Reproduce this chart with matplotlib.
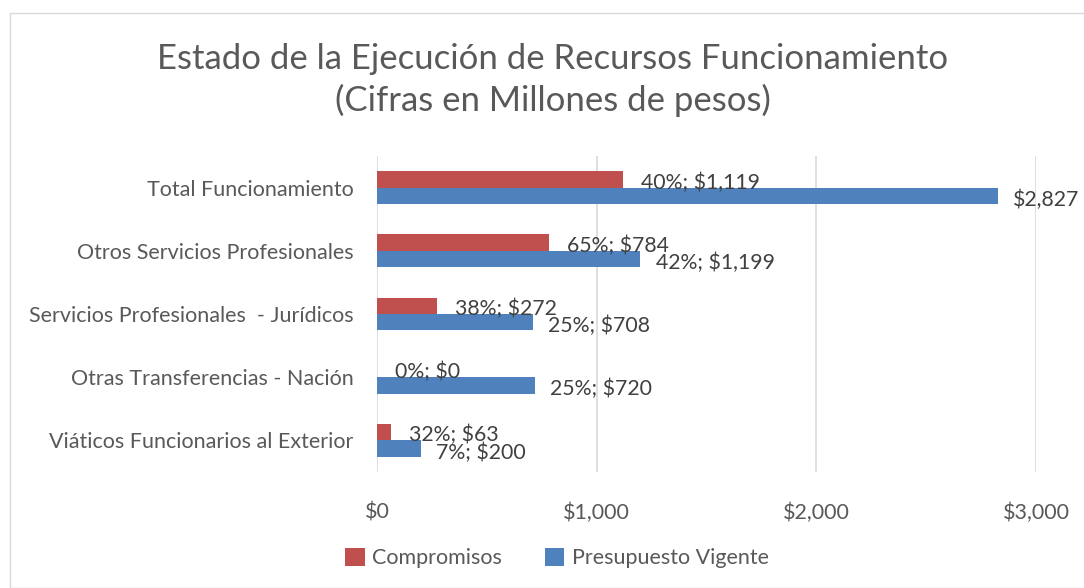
import matplotlib
matplotlib.use("Agg")
import matplotlib.pyplot as plt
from matplotlib.patches import Rectangle
from matplotlib.ticker import FuncFormatter
import numpy as np

categories = ["Total Funcionamiento", "Otros Servicios Profesionales",
              "Servicios Profesionales  - Jurídicos", "Otras Transferencias - Nación",
              "Viáticos Funcionarios al Exterior"]
compromisos = [1119, 784, 272, 0, 63]
presupuesto = [2827, 1199, 708, 720, 200]
comp_labels = ["40%; $1,119", "65%; $784", "38%; $272", "0%; $0", "32%; $63"]
pres_labels = ["$2,827", "42%; $1,199", "25%; $708", "25%; $720", "7%; $200"]
xticks = [0, 1000, 2000, 3000]

RED = "#C0504D"
BLUE = "#4F81BD"
GRAY = "#595959"
FONT = "Lato"

plt.rcParams['font.family'] = [FONT, 'DejaVu Sans']

fig = plt.figure(figsize=(10.84, 5.88), dpi=100)
fig.patches.append(Rectangle((10/1084, 0), 1.0, 1 - 13/588, transform=fig.transFigure,
                             fill=False, edgecolor="#d9d9d9", linewidth=1.0))

ax = fig.add_axes([377/1084, 1 - 472/588, (1036 - 377)/1084, (472 - 156)/588])

y = np.arange(len(categories))
h = 0.26
ax.barh(y - h/2, compromisos, height=h, color=RED, label="Compromisos", zorder=3)
ax.barh(y + h/2, presupuesto, height=h, color=BLUE, label="Presupuesto Vigente", zorder=3)

for i in range(len(categories)):
    ax.annotate(comp_labels[i], (compromisos[i], y[i] - h/2 + 0.05), xytext=(13, 0),
                textcoords="offset points", va="center", ha="left",
                fontsize=15.3, color="#404040", zorder=4)
    ax.annotate(pres_labels[i], (presupuesto[i], y[i] + h/2 + 0.06), xytext=(11, 0),
                textcoords="offset points", va="center", ha="left",
                fontsize=15.3, color="#404040", zorder=4)

ax.set_xlim(0, 3000)
ax.set_ylim(len(categories) - 0.5, -0.5)
ax.set_yticks(y)
ax.set_yticklabels(categories, fontsize=15.5, color=GRAY)
ax.set_xticks(xticks)
ax.xaxis.set_major_formatter(FuncFormatter(lambda v, p: f"${v:,.0f}"))
ax.tick_params(axis='x', labelsize=15.5, colors=GRAY, length=0, pad=22)
ax.tick_params(axis='y', length=0, pad=17)
ax.grid(axis='x', color="#d9d9d9", linewidth=1.2, zorder=0)
for s in ax.spines.values():
    s.set_visible(False)

fig.text(553/1084, 1 - 80/588, "Estado de la Ejecución de Recursos Funcionamiento\n(Cifras en Millones de pesos)",
         ha="center", va="center", fontsize=25, color=GRAY, linespacing=1.3)

leg = fig.legend(loc="center", bbox_to_anchor=(557/1084, 1 - 558/588), ncol=2, frameon=False,
                 fontsize=15.5, handlelength=0.9, handleheight=0.9, columnspacing=2.0, handletextpad=0.35)
for t in leg.get_texts():
    t.set_color(GRAY)

fig.savefig("out.png", dpi=100)
